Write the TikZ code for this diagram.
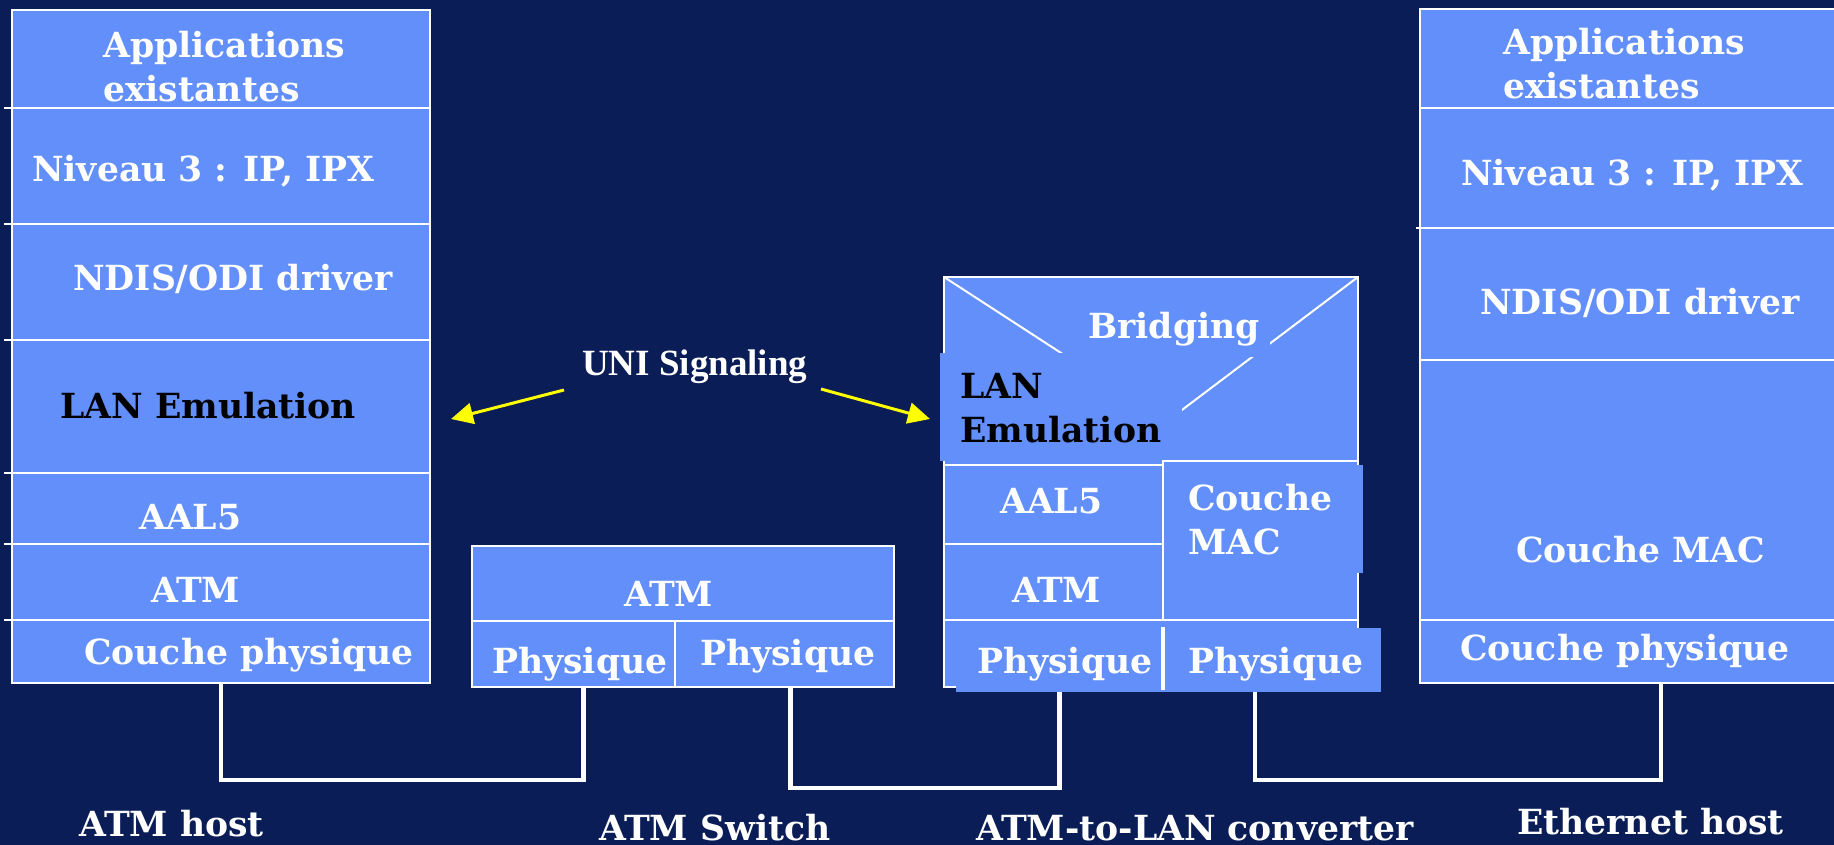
\documentclass[tikz,border=0pt]{standalone}
\usepackage{fontspec}
\setmainfont{DejaVu Serif}
\newfontfamily\timesfont{Liberation Serif}
\usetikzlibrary{arrows.meta}
\definecolor{bg}{HTML}{0B1D56}
\definecolor{boxblue}{HTML}{638FFA}
\definecolor{sigyellow}{HTML}{FFFF00}
\begin{document}
\begin{tikzpicture}[x=1pt,y=-1pt,
  cell/.style={draw=white, line width=2pt, fill=boxblue, inner sep=0pt, outer sep=0pt, anchor=north west},
  plainfill/.style={fill=boxblue, inner sep=0pt, outer sep=0pt, anchor=north west},
  lbl/.style={anchor=base west, inner sep=0pt, text=white, font=\fontsize{34.6}{44}\selectfont\bfseries},
  darklbl/.style={lbl, text=black},
  sep/.style={draw=white, line width=2pt},
  conn/.style={draw=white, line width=4.5pt},
  sig/.style={draw=sigyellow, line width=3pt, -{Triangle[length=22pt,width=21pt]}},
]
\fill[bg] (0,0) rectangle (1834,845);
\useasboundingbox (0,0) rectangle (1834,845);
\clip (0,0) rectangle (1834,845);

% ---------------- ATM host ----------------
\node[cell, minimum width=418pt, minimum height=98pt]  (happ)  at (12,10)  {};
\node[cell, minimum width=418pt, minimum height=116pt] (hnet)  at (12,108) {};
\node[cell, minimum width=418pt, minimum height=116pt] (hdrv)  at (12,224) {};
\node[cell, minimum width=418pt, minimum height=133pt] (hlane) at (12,340) {};
\node[cell, minimum width=418pt, minimum height=71pt]  (haal)  at (12,473) {};
\node[cell, minimum width=418pt, minimum height=76pt]  (hatm)  at (12,544) {};
\node[cell, minimum width=418pt, minimum height=63pt]  (hphys) at (12,620) {};
\foreach \yy in {108,224,340,473,544,620} \draw[sep] (4,\yy) -- (12,\yy);

\node[lbl, align=left] (thapp) at (103,102) {Applications\\existantes};
\node[lbl] (thnet)  at (32,182)  {Niveau 3 : IP, IPX};
\node[lbl] (thdrv)  at (73,290)  {NDIS/ODI driver};
\node[darklbl] (thlane) at (60,418) {LAN Emulation};
\node[lbl] (thaal)  at (139,529) {AAL5};
\node[lbl] (thatm)  at (151,602) {ATM};
\node[lbl] (thphys) at (84,664)  {Couche physique};

% ---------------- ATM switch ----------------
\node[cell, minimum width=422pt, minimum height=75pt] (satm)   at (472,546) {};
\node[cell, minimum width=203pt, minimum height=66pt] (sphysL) at (472,621) {};
\node[cell, minimum width=219pt, minimum height=66pt] (sphysR) at (675,621) {};
\node[lbl] (tsatm)   at (624,606) {ATM};
\node[lbl] (tsphysL) at (492,673) {Physique};
\node[lbl] (tsphysR) at (700,665) {Physique};

% ---------------- ATM-to-LAN converter ----------------
\node[cell, minimum width=414pt, minimum height=410pt] (cbox) at (944,277) {};
\draw[sep] (cbox.north west) -- (1075,362);
\draw[sep] (cbox.north east) -- (1170,419);
\fill[boxblue] (1075,300) rectangle (1270,357);
\node[lbl] (tcbridge) at (1088,338) {Bridging};
\node[plainfill, minimum width=242pt, minimum height=108pt] (clane) at (940,353) {};
\node[cell, minimum width=219pt, minimum height=79pt] (caal) at (944,465) {};
\node[cell, minimum width=219pt, minimum height=76pt] (catm) at (944,544) {};
\node[cell, minimum width=195pt, minimum height=159pt] (cmacarea) at (1163,461) {};
\node[plainfill, minimum width=199pt, minimum height=108pt] (cmac) at (1164,465) {};
\node[plainfill, minimum width=207pt, minimum height=64pt] (cphysL) at (956,628) {};
\node[plainfill, minimum width=218pt, minimum height=64pt] (cphysR) at (1163,628) {};
\draw[white, line width=4pt] (1163,627) -- (1163,690);
\node[darklbl, align=left] (tclane) at (960,442) {LAN\\Emulation};
\node[lbl] (tcaal) at (1000,513) {AAL5};
\node[lbl, align=left] (tcmac) at (1188,554) {Couche\\MAC};
\node[lbl] (tcatm) at (1012,602) {ATM};
\node[lbl] (tcphysL) at (977,673) {Physique};
\node[lbl] (tcphysR) at (1188,673) {Physique};

% ---------------- Ethernet host ----------------
\node[cell, minimum width=482pt, minimum height=99pt]  (eapp)  at (1420,9)   {};
\node[cell, minimum width=482pt, minimum height=120pt] (enet)  at (1420,108) {};
\node[cell, minimum width=482pt, minimum height=132pt] (edrv)  at (1420,228) {};
\node[cell, minimum width=482pt, minimum height=260pt] (emac)  at (1420,360) {};
\node[cell, minimum width=482pt, minimum height=63pt]  (ephys) at (1420,620) {};
\draw[sep] (1416,228) -- (1420,228);
\node[lbl, align=left] (teapp) at (1503,99) {Applications\\existantes};
\node[lbl] (tenet)  at (1461,186) {Niveau 3 : IP, IPX};
\node[lbl] (tedrv)  at (1480,314) {NDIS/ODI driver};
\node[lbl] (temac)  at (1516,562) {Couche MAC};
\node[lbl] (tephys) at (1460,660) {Couche physique};

% ---------------- connectors ----------------
\draw[conn] (hphys.south) -- ++(0,97) -| ([xshift=10pt]sphysL.south);
\draw[conn] ([xshift=6pt]sphysR.south) -- ++(0,101) -| (cphysL.south);
\draw[conn] ([xshift=-17pt]cphysR.south) -- ++(0,88) -| (ephys.south);

% ---------------- UNI signaling ----------------
\node[anchor=base west, inner sep=0pt, text=white, font=\timesfont\fontsize{37}{40}\selectfont\bfseries] (uni) at (582,375) {UNI Signaling};
\coordinate (uniL) at (564,390);
\coordinate (uniR) at (821,389);
\coordinate (tipL) at (451,419);
\coordinate (tipR) at (930,419);
\draw[sig] (uniL) -- (tipL);
\draw[sig] (uniR) -- (tipR);

% ---------------- captions ----------------
\node[lbl] (capH) at (79,836)  {ATM host};
\node[lbl] (capS) at (599,840) {ATM Switch};
\node[lbl] (capC) at (976,840) {ATM-to-LAN converter};
\node[lbl] (capE) at (1517,834) {Ethernet host};
\end{tikzpicture}
\end{document}
